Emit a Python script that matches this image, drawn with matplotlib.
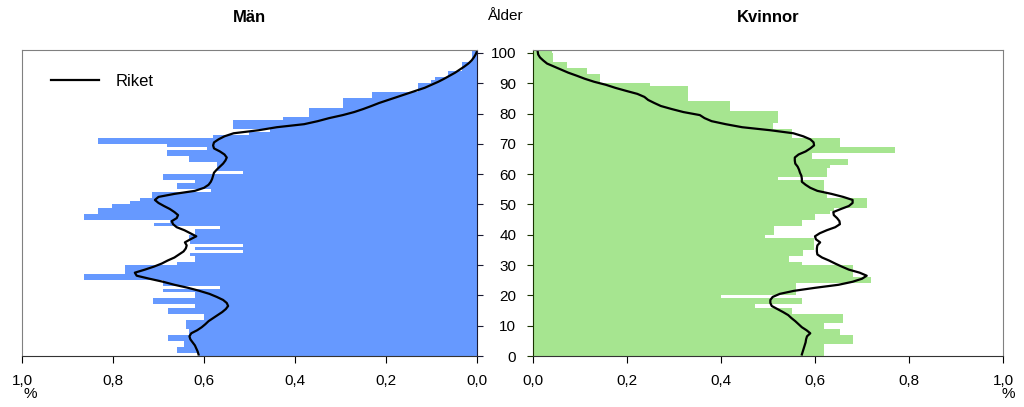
import numpy as np
import matplotlib
matplotlib.use("Agg")
from matplotlib import pyplot as plt
from matplotlib.ticker import FuncFormatter

plt.rcParams['font.family'] = ['Liberation Sans', 'DejaVu Sans']

ages = np.arange(0, 101)

# andel av befolkningen (%) per ettårsklass, kommunen
men = [0.61, 0.66, 0.66, 0.645, 0.645, 0.68, 0.68, 0.634, 0.634, 0.64,
       0.64, 0.64, 0.60, 0.60, 0.68, 0.68, 0.62, 0.713, 0.713, 0.62,
       0.62, 0.69, 0.565, 0.69, 0.69, 0.864, 0.864, 0.774, 0.774, 0.774,
       0.66, 0.62, 0.62, 0.63, 0.514, 0.62, 0.514, 0.63, 0.634, 0.634,
       0.62, 0.62, 0.565, 0.711, 0.675, 0.864, 0.864, 0.832, 0.832, 0.803,
       0.763, 0.74, 0.714, 0.714, 0.585, 0.66, 0.66, 0.62, 0.69, 0.69,
       0.514, 0.572, 0.572, 0.572, 0.634, 0.634, 0.682, 0.682, 0.594, 0.682,
       0.832, 0.832, 0.58, 0.50, 0.455, 0.536, 0.536, 0.536, 0.426, 0.37,
       0.37, 0.37, 0.295, 0.295, 0.295, 0.23, 0.23, 0.13, 0.13, 0.13,
       0.10, 0.092, 0.064, 0.064, 0.033, 0.033, 0.033, 0.012, 0.012, 0.012,
       0.012]

women = [0.62, 0.62, 0.62, 0.62, 0.68, 0.68, 0.68, 0.653, 0.653, 0.62,
         0.62, 0.66, 0.66, 0.66, 0.55, 0.55, 0.472, 0.572, 0.572, 0.40,
         0.56, 0.56, 0.56, 0.56, 0.72, 0.72, 0.68, 0.68, 0.68, 0.68,
         0.572, 0.545, 0.545, 0.575, 0.575, 0.597, 0.597, 0.597, 0.597, 0.494,
         0.512, 0.512, 0.512, 0.572, 0.572, 0.60, 0.60, 0.632, 0.64, 0.71,
         0.71, 0.71, 0.625, 0.625, 0.62, 0.62, 0.62, 0.62, 0.521, 0.625,
         0.625, 0.625, 0.632, 0.671, 0.671, 0.594, 0.594, 0.77, 0.77, 0.653,
         0.653, 0.653, 0.55, 0.55, 0.55, 0.51, 0.51, 0.521, 0.521, 0.521,
         0.521, 0.42, 0.42, 0.42, 0.33, 0.33, 0.33, 0.33, 0.33, 0.249,
         0.143, 0.143, 0.143, 0.114, 0.114, 0.072, 0.072, 0.043, 0.043, 0.043,
         0.04]

# riket
riket_men = [0.612, 0.614, 0.617, 0.62, 0.625, 0.63, 0.632, 0.628, 0.615, 0.605,
             0.597, 0.59, 0.58, 0.57, 0.56, 0.552, 0.547, 0.55, 0.558, 0.572,
             0.588, 0.61, 0.635, 0.665, 0.69, 0.72, 0.748, 0.752, 0.73, 0.71,
             0.693, 0.68, 0.665, 0.655, 0.645, 0.64, 0.638, 0.642, 0.63, 0.617,
             0.63, 0.643, 0.66, 0.668, 0.671, 0.66, 0.657, 0.665, 0.675, 0.688,
             0.70, 0.708, 0.70, 0.665, 0.62, 0.60, 0.59, 0.585, 0.582, 0.58,
             0.578, 0.572, 0.565, 0.558, 0.553, 0.55, 0.555, 0.565, 0.578, 0.58,
             0.578, 0.568, 0.555, 0.535, 0.48, 0.44, 0.38, 0.35, 0.325, 0.295,
             0.27, 0.25, 0.232, 0.215, 0.195, 0.175, 0.155, 0.135, 0.115, 0.10,
             0.085, 0.072, 0.06, 0.048, 0.038, 0.028, 0.019, 0.012, 0.007, 0.003,
             0.0]

riket_women = [0.572, 0.574, 0.576, 0.578, 0.58, 0.581, 0.583, 0.59, 0.582, 0.572,
               0.565, 0.558, 0.55, 0.543, 0.532, 0.52, 0.508, 0.505, 0.505, 0.51,
               0.525, 0.555, 0.60, 0.65, 0.68, 0.70, 0.71, 0.695, 0.672, 0.657,
               0.643, 0.63, 0.615, 0.605, 0.604, 0.604, 0.605, 0.611, 0.602, 0.60,
               0.61, 0.625, 0.643, 0.653, 0.652, 0.647, 0.64, 0.639, 0.655, 0.672,
               0.68, 0.68, 0.66, 0.635, 0.605, 0.59, 0.58, 0.572, 0.572, 0.571,
               0.568, 0.566, 0.563, 0.558, 0.557, 0.557, 0.565, 0.58, 0.59, 0.598,
               0.597, 0.59, 0.575, 0.554, 0.505, 0.445, 0.41, 0.38, 0.365, 0.355,
               0.32, 0.295, 0.272, 0.258, 0.245, 0.237, 0.222, 0.198, 0.175, 0.155,
               0.13, 0.11, 0.093, 0.075, 0.06, 0.045, 0.03, 0.022, 0.015, 0.011,
               0.01]

xticks = [0.0, 0.2, 0.4, 0.6, 0.8, 1.0]
yticks = list(range(0, 101, 10))

blue = '#6699ff'
green = '#a6e590'
frame = '#808080'

fig = plt.figure(figsize=(10.24, 4.07), dpi=100)
axl = fig.add_axes([0.0215, 0.1253, 0.4443, 0.752])
axr = fig.add_axes([0.5205, 0.1253, 0.4590, 0.752])

comma = FuncFormatter(lambda v, p: ('%.1f' % v).replace('.', ','))

# män
axl.barh(ages, men, height=1, align='edge', color=blue, linewidth=0)
axl.plot(riket_men, ages + 0.5, color='black', linewidth=1.6, label='Riket')
axl.set_xlim(1.0, 0.0)
axl.set_ylim(0, 101)
axl.yaxis.tick_right()
axl.set_yticks(yticks)
axl.tick_params(axis='y', which='major', length=4, labelright=False, color='#1a1a33')
axl.set_xticks(xticks)
axl.xaxis.set_major_formatter(comma)
axl.tick_params(axis='x', which='major', length=5, labelsize=11, pad=8)
axl.set_title('Män', fontsize=12, fontweight='bold', pad=20)
axl.legend(loc='upper left', bbox_to_anchor=(0.03, 0.97), frameon=False,
           fontsize=12, handlelength=2.9, handletextpad=1.0)
for s in ['top', 'left']:
    axl.spines[s].set_color(frame)
axl.spines['right'].set_color('#1a1a33')
axl.spines['bottom'].set_color('#333333')

# kvinnor
axr.barh(ages, women, height=1, align='edge', color=green, linewidth=0)
axr.plot(riket_women, ages + 0.5, color='black', linewidth=1.6)
axr.set_xlim(0.0, 1.0)
axr.set_ylim(0, 101)
axr.set_yticks(yticks)
axr.tick_params(axis='y', which='major', length=4, labelsize=11, pad=8, color='#1a3300')
axr.set_xticks(xticks)
axr.xaxis.set_major_formatter(comma)
axr.tick_params(axis='x', which='major', length=5, labelsize=11, pad=8)
axr.set_title('Kvinnor', fontsize=12, fontweight='bold', pad=20)
for s in ['top', 'right']:
    axr.spines[s].set_color(frame)
axr.spines['left'].set_color('#1a3300')
axr.spines['bottom'].set_color('#333333')

fig.text(0.493, 0.96, 'Ålder', ha='center', va='center', fontsize=11)
fig.text(0.03, 0.015, '%', ha='center', va='bottom', fontsize=11)
fig.text(0.985, 0.015, '%', ha='center', va='bottom', fontsize=11)

fig.savefig('out.png', dpi=100)
